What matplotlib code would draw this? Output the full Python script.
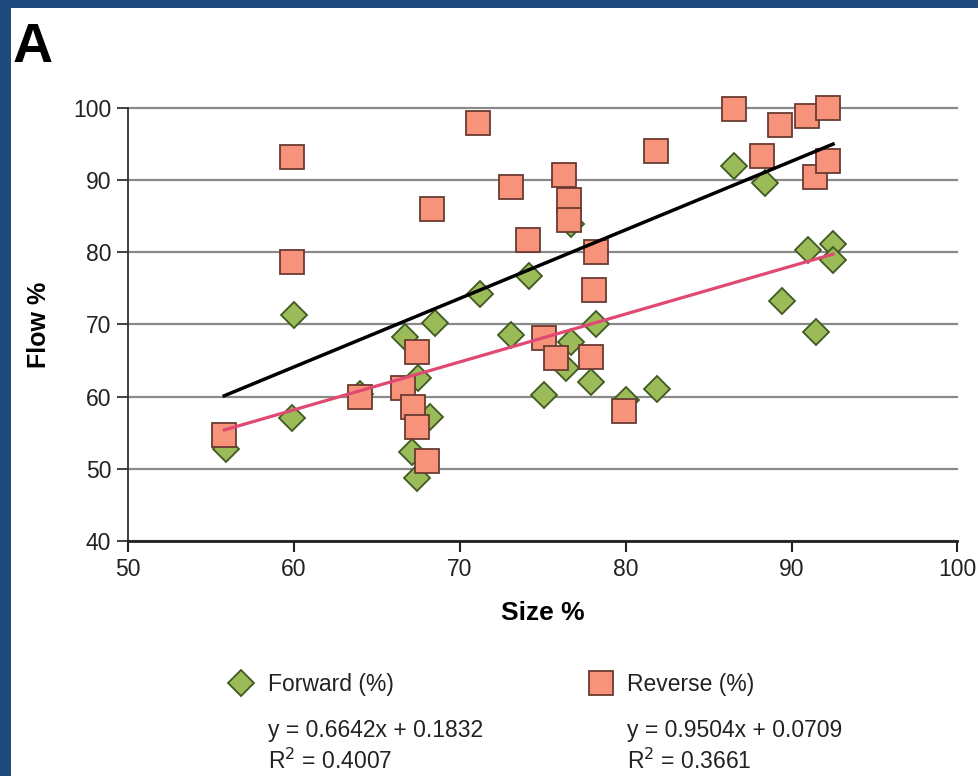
import numpy as np
import matplotlib
matplotlib.use("Agg")
import matplotlib.pyplot as plt
from matplotlib.lines import Line2D
from matplotlib.patches import Rectangle

plt.rcParams['font.family'] = ['Liberation Sans', 'DejaVu Sans']

# ---- data ----
fwd_x = [55.9, 59.9, 60.0, 64.0, 66.7, 67.5, 67.1, 67.4, 68.2, 68.5, 71.2, 73.1, 74.2, 75.1,
         76.7, 76.7, 76.4, 78.2, 77.9, 80.0, 81.9, 86.5, 88.4, 89.4, 91.0, 91.5, 92.5, 92.5]
fwd_y = [52.8, 57.0, 71.3, 60.4, 68.3, 62.6, 52.4, 48.7, 57.2, 70.2, 74.2, 68.5, 76.7, 60.2,
         83.9, 67.6, 64.0, 70.1, 62.1, 59.6, 61.0, 91.9, 89.6, 73.2, 80.3, 69.0, 81.2, 79.0]

rev_x = [55.8, 59.9, 59.9, 64.0, 66.6, 67.4, 67.2, 67.4, 68.0, 68.3, 71.1, 73.1, 74.1, 75.1, 75.8,
         76.3, 76.6, 76.6, 77.9, 78.2, 78.1, 79.9, 81.8, 86.5, 88.2, 89.3, 90.9, 91.4, 92.2, 92.2]
rev_y = [54.7, 93.2, 78.7, 60.0, 61.2, 66.2, 58.6, 55.8, 51.1, 86.0, 97.9, 89.0, 81.7, 68.1, 65.3,
         90.7, 87.2, 84.5, 65.5, 80.0, 74.8, 58.0, 94.0, 99.8, 93.3, 97.6, 98.9, 90.4, 100.0, 92.7]

fwd_fit = (0.6642, 0.1832, 0.4007)
rev_fit = (0.9504, 0.0709, 0.3661)

x_ticks = [50, 60, 70, 80, 90, 100]
y_ticks = [40, 50, 60, 70, 80, 90, 100]

# ---- styles ----
green_face = '#9bbb59'
green_edge = '#3e5a22'
sal_face = '#f7937b'
sal_edge = '#6a3a30'
pink_line = '#e04a72'
border = '#1f4a7e'

W, H = 979, 776
fig = plt.figure(figsize=(W / 100, H / 100), dpi=100)
fig.patch.set_facecolor('white')

# blue frame (top and left)
fig.add_artist(Rectangle((0, 1 - 8 / H), 1, 8 / H, transform=fig.transFigure,
                         facecolor=border, edgecolor='none', zorder=0))
fig.add_artist(Rectangle((0, 0), 11 / W, 1, transform=fig.transFigure,
                         facecolor=border, edgecolor='none', zorder=0))

ax = fig.add_axes([128 / W, 1 - 541 / H, (957.5 - 128) / W, (541 - 108) / H])
ax.set_xlim(50, 100)
ax.set_ylim(40, 100)
ax.set_xticks(x_ticks)
ax.set_yticks(y_ticks)
for s in ['top', 'right']:
    ax.spines[s].set_visible(False)
ax.spines['left'].set_color('#333333')
ax.spines['left'].set_linewidth(1.3)
ax.spines['bottom'].set_color('#222222')
ax.spines['bottom'].set_linewidth(2.0)
ax.yaxis.grid(True, color='#8a8a8a', linewidth=1.6)
ax.set_axisbelow(True)
for gl in ax.get_ygridlines():
    gl.set_clip_on(False)
ax.tick_params(axis='y', direction='out', length=8, width=1.3, color='#333333',
               labelsize=16.5, labelcolor='#222222', pad=4)
ax.tick_params(axis='x', direction='out', length=8, width=1.5, color='#222222',
               labelsize=16.5, labelcolor='#222222', pad=4)
ax.set_xlabel('Size %', fontsize=19, fontweight='bold', labelpad=15)
ax.set_ylabel('Flow %', fontsize=18, fontweight='bold', labelpad=16)

ax.plot(fwd_x, fwd_y, linestyle='none', marker='D', markersize=13.5,
        markerfacecolor=green_face, markeredgecolor=green_edge, markeredgewidth=1.3,
        zorder=3, clip_on=False)
ax.plot(rev_x, rev_y, linestyle='none', marker='s', markersize=17,
        markerfacecolor=sal_face, markeredgecolor=sal_edge, markeredgewidth=1.3,
        zorder=4, clip_on=False)

xmin = min(min(fwd_x), min(rev_x))
xmax = max(max(fwd_x), max(rev_x))
xs = np.array([xmin, xmax])
ax.plot(xs, (fwd_fit[0] * xs / 100 + fwd_fit[1]) * 100, color=pink_line, linewidth=2.3, zorder=5)
ax.plot(xs, (rev_fit[0] * xs / 100 + rev_fit[1]) * 100, color='black', linewidth=2.5, zorder=5)

# panel letter
fig.text(13 / W, 1 - 62 / H, 'A', fontsize=40, fontweight='bold', va='baseline', ha='left')

# legend / equations below the plot
def fx(px):
    return px / W

def fy(py):
    return 1 - py / H

fig.add_artist(Line2D([fx(241)], [fy(683)], transform=fig.transFigure, marker='D',
                      markersize=13.5, markerfacecolor=green_face, markeredgecolor=green_edge,
                      markeredgewidth=1.3, linestyle='none'))
fig.add_artist(Line2D([fx(601)], [fy(683)], transform=fig.transFigure, marker='s',
                      markersize=17, markerfacecolor=sal_face, markeredgecolor=sal_edge,
                      markeredgewidth=1.3, linestyle='none'))
tkw = dict(fontsize=16.5, color='#222222', va='center', ha='left')
fig.text(fx(268), fy(684), 'Forward (%)', **tkw)
fig.text(fx(627), fy(684), 'Reverse (%)', **tkw)
fig.text(fx(268), fy(731), f'y = {fwd_fit[0]:.4f}x + {fwd_fit[1]:.4f}', **tkw)
fig.text(fx(627), fy(731), f'y = {rev_fit[0]:.4f}x + {rev_fit[1]:.4f}', **tkw)
fig.text(fx(268), fy(761), f'R$^2$ = {fwd_fit[2]:.4f}', **tkw)
fig.text(fx(627), fy(761), f'R$^2$ = {rev_fit[2]:.4f}', **tkw)

fig.savefig('out.png', dpi=100, facecolor='white')
